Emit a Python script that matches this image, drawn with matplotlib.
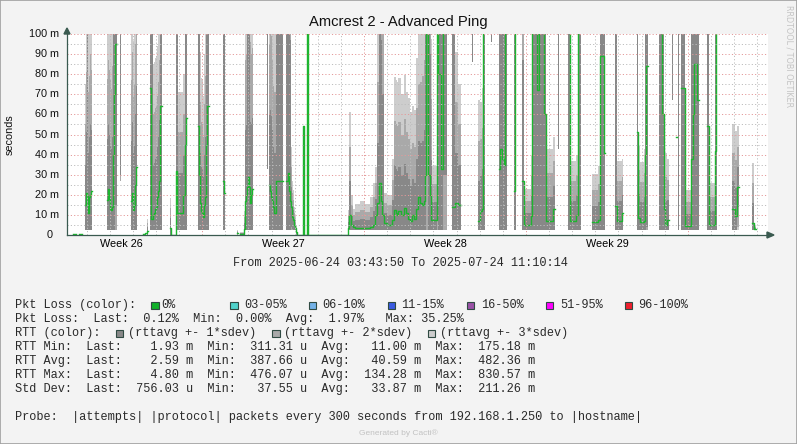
import numpy as np
import matplotlib.pyplot as plt
from matplotlib.patches import Rectangle, Polygon
from matplotlib.lines import Line2D
from matplotlib.transforms import blended_transform_factory

nan = np.nan

# RTT samples, hours after 2025-06-24 03:43:50 (values in ms, nan = no data)
hours = [0, 6, 9, 12, 16,
         19, 20, 21, 22, 23, 24, 25, 26,
         42, 43, 44, 45, 46, 47, 48, 49, 50, 52, 55, 56,
         66, 67, 68, 69, 70, 71, 72, 73,
         79, 81, 83, 84,
         86, 87, 89, 90, 91, 92, 93, 94, 95, 96, 97, 99,
         107, 108, 113, 114, 115, 120, 122, 123, 125,
         136, 137, 138, 139, 140, 141, 142, 143, 144, 145, 147,
         162, 163, 164,
         176, 177, 180, 184, 185, 186, 187, 188, 189, 190, 191, 192, 193, 208, 209,
         210, 211, 212, 213, 214, 215, 217, 224,
         227, 229, 230, 231, 232, 233, 234, 235, 236, 237, 238, 239, 245, 246, 249, 250,
         292, 293, 295, 297, 299, 304, 309, 314, 318, 320,
         322, 324, 326, 327, 329, 332, 337, 339, 341, 342,
         344, 347, 350, 352, 354, 356, 358, 360, 362, 364,
         366, 368, 370, 372, 373, 375, 377, 378, 379, 384,
         385, 388, 390, 394,
         400, 403, 406, 409, 420, 421,
         427, 429, 431, 432, 434, 440, 441,
         448, 449, 451, 453, 455, 457, 464, 465, 466,
         472, 474, 482, 483, 488, 490, 495, 497, 504, 506, 510, 511,
         520, 522, 528, 530, 533,
         545, 551, 553, 557, 558,
         569, 571, 576, 577,
         591, 593, 595, 599, 600, 601, 603,
         614, 617, 619, 621, 623, 625, 628, 629, 632, 633, 634, 635,
         637, 641, 648, 650, 651, 654, 656,
         664, 666, 672, 673, 675,
         690, 693, 695, 697,
         711, 713, 715, 727.4]

rtt_avg = [nan, 0.3, nan, 0.3, nan,
           15, 21, 20, 11, 19, 20, 22, nan,
           17.6, 23, 18, 13, 12.6, 14, 40, 70, 95, nan, 140, nan,
           17, 21, 16, 12.6, 15, 25, 34, nan,
           0.3, 0.8, 2, nan,
           73, 8, 10, 11, 13, 14, 19, 22, 27, 40, 64, nan,
           3.5, 0.2, 32, 11, 11, 20, 45, 58, nan,
           54, 30, 16, 12, 11, 9, 15, 19, 45, 64, nan,
           27, 21, nan,
           0.8, nan, 0.5, 3, 17, 20, 24, 29, 24, 16, 20, 23, nan, 150, nan,
           25, 22, 19, 17, 14, 11, 27, nan,
           27, 31, 22, 17, 14, 11, 9, 7.5, 5, 3.5, 1.5, 0.2, 54, 0.2, 180, 0.2,
           3.5, 10, 5, 4, 3.5, 3.5, 3.5, 4, 5, 10,
           16, 26, 17, 10, 6, 5, 7.6, 12.6, 11, 10,
           12, 10, 13.5, 11, 8, 7, 10, 8, 13, 19,
           16, 15, 17, 30, 130, 30, 20, 7.5, 7.5, 150,
           80, 33, 150, nan,
           14, 16, 15, nan, 150, nan,
           7, 12, 13, 150, nan, 150, nan,
           33, 43, 38, 35, 150, nan, 22, 150, nan,
           27, 5, 9.5, 150, 72, 150, 60, 7, 13, nan, 150, nan,
           150, 7, 10, 150, nan,
           6.5, 7.5, 89, 41, nan,
           14.5, 7, 11, nan,
           51, 8.5, 6.5, 7, 40, 84, nan,
           150, 60, 13, 5, 7.6, nan, 150, nan, 49, nan, 150, nan,
           73, 4.5, 38, 60, 85, 67, nan,
           54, 5, 42, 150, nan,
           13, 9.5, 24, nan,
           6, 3, nan, nan]

rtt_sdev = [nan, 0, nan, 0, nan,
            20, 30, 90, 30, 30, 35, 30, nan,
            30, 32, 32, 32, 30, 35, 80, 80, 80, nan, 110, nan,
            30, 35, 28, 28, 30, 35, 40, nan,
            0, 0, 2, nan,
            80, 95, 25, 25, 25, 25, 25, 27, 30, 60, 80, nan,
            5, 0, 90, 90, 20, 20, 70, 70, nan,
            80, 80, 25, 22, 22, 20, 25, 30, 70, 70, nan,
            80, 80, nan,
            0.5, nan, 0.3, 3, 35, 35, 90, 90, 90, 40, 35, 35, nan, 117, nan,
            35, 40, 40, 35, 30, 30, 90, nan,
            90, 90, 90, 80, 10, 8, 6, 5, 3, 2, 1, 0, 0, 0, 0, 0,
            3, 17, 5, 3, 4, 4.5, 4, 5, 7, 8,
            30, 80, 80, 60, 5, 5, 10, 22, 22, 22,
            22, 20, 22, 20, 20, 18, 18, 18, 25, 28,
            30, 32, 35, 70, 80, 80, 70, 30, 9, 120,
            100, 100, 120, nan,
            90, 25, 20, nan, 64, nan,
            20, 18, 20, 150, nan, 54, nan,
            100, 100, 100, 100, 150, nan, 80, 150, nan,
            60, 6, 10, 150, 120, 150, 90, 12, 12, nan, 107, nan,
            150, 10, 10, 150, nan,
            8, 9, 120, 90, nan,
            90, 10, 9, nan,
            80, 12, 10, 12, 80, 80, nan,
            150, 80, 15, 12, 10, nan, 83, nan, 0, nan, 148, nan,
            90, 6, 90, 90, 90, 90, nan,
            90, 7, 90, 150, nan,
            14, 14, 10, nan,
            10, 0.5, nan, nan]

# lowest RTT seen in each step (bands never go below it)
rtt_floor = [nan, 0, nan, 0, nan,
             2.6, 2.6, 2.6, 2.6, 2.6, 2.6, 2.6, nan,
             2.6, 2.6, 2.6, 2.6, 2.6, 2.6, 2.6, 2.6, 2.6, nan, 27, nan,
             2.6, 2.6, 2.6, 2.6, 2.6, 2.6, 2.6, nan,
             0, 0, 0, nan,
             2.6, 2.6, 2.6, 2.6, 2.6, 2.6, 2.6, 2.6, 2.6, 2.6, 2.6, nan,
             0, 0, 2.6, 2.6, 2.6, 2.6, 2.6, 2.6, nan,
             2.6, 2.6, 2.6, 2.6, 2.6, 2.6, 2.6, 2.6, 2.6, 2.6, nan,
             2.6, 2.6, nan,
             0, nan, 0, 0, 2.6, 2.6, 2.6, 2.6, 2.6, 2.6, 2.6, 2.6, nan, 33, nan,
             2.6, 2.6, 2.6, 2.6, 2.6, 2.6, 2.6, nan,
             2.6, 2.6, 2.6, 2.6, 2.6, 2.6, 2.6, 2.6, 2.6, 2.6, 0, 0, 0, 0, 0, 0,
             2.6, 2.6, 2.6, 2.6, 2.6, 2.6, 2.6, 2.6, 2.6, 2.6,
             2.6, 2.6, 2.6, 2.6, 2.6, 2.6, 2.6, 2.6, 2.6, 2.6,
             2.6, 2.6, 2.6, 2.6, 2.6, 2.6, 2.6, 2.6, 2.6, 2.6,
             2.6, 2.6, 2.6, 2.6, 2.6, 2.6, 2.6, 2.6, 2.6, 2.6,
             2.6, 2.6, 2.6, nan,
             2.6, 2.6, 2.6, nan, 86, nan,
             2.6, 2.6, 2.6, 2.6, nan, 96, nan,
             2.6, 2.6, 2.6, 2.6, 2.6, nan, 2.6, 2.6, nan,
             2.6, 2.6, 2.6, 2.6, 2.6, 2.6, 2.6, 2.6, 2.6, nan, 43, nan,
             2.6, 2.6, 2.6, 2.6, nan,
             2.6, 2.6, 2.6, 2.6, nan,
             2.6, 2.6, 2.6, nan,
             2.6, 2.6, 2.6, 2.6, 2.6, 2.6, nan,
             2.6, 2.6, 2.6, 2.6, 2.6, nan, 67, nan, 49, nan, 2.6, nan,
             2.6, 2.6, 2.6, 2.6, 2.6, 2.6, nan,
             2.6, 2.6, 2.6, 2.6, nan,
             2.6, 2.6, 2.6, nan,
             2.6, 2.6, nan, nan]

ytick_vals = [0, 10, 20, 30, 40, 50, 60, 70, 80, 90, 100]
ytick_labels = ['0', '10 m', '20 m', '30 m', '40 m', '50 m', '60 m', '70 m', '80 m', '90 m', '100 m']

loss_labels = ['0%', '03-05%', '06-10%', '11-15%', '16-50%', '51-95%', '96-100%']
loss_colors = ['#10b12a', '#4fd3cb', '#74b2e8', '#3a5be0', '#9a52a6', '#ff00ff', '#ee1f2e']
band_labels = ['(rttavg +- 1*sdev)', '(rttavg +- 2*sdev)', '(rttavg +- 3*sdev)']
band_colors = ['#888888', '#a9a9a9', '#cdcdcd']

stat_rows = [
    'Pkt Loss:  Last:  0.12%  Min:  0.00%  Avg:  1.97%   Max: 35.25%',
    'RTT Min:  Last:    1.93 m  Min:  311.31 u  Avg:   11.00 m  Max:  175.18 m',
    'RTT Avg:  Last:    2.59 m  Min:  387.66 u  Avg:   40.59 m  Max:  482.36 m',
    'RTT Max:  Last:    4.80 m  Min:  476.07 u  Avg:  134.28 m  Max:  830.57 m',
    'Std Dev:  Last:  756.03 u  Min:   37.55 u  Avg:   33.87 m  Max:  211.26 m',
]

start = np.datetime64('2025-06-24T03:43:50')
end = np.datetime64('2025-07-24T11:10:14')
one_h = np.timedelta64(1, 'h')
span = (end - start) / one_h

W, H = 797, 444
fig = plt.figure(figsize=(W / 100, H / 100), dpi=100, facecolor='#f3f3f3')


def fx(px):
    return px / W


def fy(py):
    return 1 - py / H


ax = fig.add_axes([fx(67), fy(235), (768 - 67) / W, (235 - 34) / H])
ax.set_facecolor('white')
ax.set_xlim(0, span)
ax.set_ylim(0, 100)
for s in ax.spines.values():
    s.set_visible(False)

# step data like rrdtool
t = np.array(hours, float)
avg = np.array(rtt_avg, float)
sd = np.array(rtt_sdev, float)
fl = np.array(rtt_floor, float)
ts = np.repeat(t, 2)[1:]


def steps(v):
    return np.repeat(v, 2)[:-1]


for k, col in zip([3, 2, 1], band_colors[::-1]):
    lo = np.maximum(avg - k * sd, fl)
    hi = avg + k * sd
    ax.fill_between(ts, steps(lo), steps(hi), color=col, lw=0, zorder=1)
ax.plot(ts, steps(avg), color='#1db52f', lw=1.0, zorder=3)

# grid
dots = (0, (1.2, 2.2))
for v in np.arange(5, 100, 10):
    ax.axhline(v, color='#bdbdbd', lw=0.7, ls=dots, zorder=4)
for v in ytick_vals[1:]:
    ax.axhline(v, color='#e49a9a', lw=0.7, ls=dots, zorder=4)
days = np.arange(np.datetime64('2025-06-25'), np.datetime64('2025-07-25'), np.timedelta64(1, 'D'))
mondays = [d for d in days if (d.astype('datetime64[D]').view('int64') - 4) % 7 == 0]
for d in days:
    if d not in mondays:
        ax.axvline((d - start) / one_h, color='#bdbdbd', lw=0.7, ls=dots, zorder=4)
for d in mondays:
    ax.axvline((d - start) / one_h, color='#e49a9a', lw=0.7, ls=dots, zorder=4)

# week labels in the middle of each week
week_pos, week_lab = [], []
for d in [np.datetime64('2025-06-23')] + mondays:
    mid = (d + np.timedelta64(84, 'h') - start) / one_h
    if 0 <= mid <= span:
        week_pos.append(mid)
        week_lab.append('Week %d' % d.astype(object).isocalendar()[1])
ax.set_xticks(week_pos, week_lab)
ax.set_yticks([])
ax.tick_params(axis='x', length=0, pad=3, labelsize=7.8)
for lab in ax.get_xticklabels():
    lab.set_family('Liberation Sans')

tr = blended_transform_factory(fig.transFigure, ax.transData)
for v, lab in zip(ytick_vals, ytick_labels):
    ax.text(fx(59 if v else 53), v, lab, transform=tr, ha='right', va='center',
            fontsize=7.8, family='Liberation Sans', color='#111111')

# axes with arrows
axc = '#3a5a50'
fig.add_artist(Line2D([fx(67), fx(67)], [fy(235), fy(31)], color=axc, lw=0.9))
fig.add_artist(Line2D([fx(67), fx(771)], [fy(235), fy(235)], color=axc, lw=0.9))
fig.add_artist(Polygon([[fx(64), fy(34)], [fx(70), fy(34)], [fx(67), fy(28)]], closed=True, color=axc))
fig.add_artist(Polygon([[fx(767), fy(232)], [fx(767), fy(238)], [fx(774), fy(235)]], closed=True, color=axc))

# texts
fig.text(fx(398), fy(22), 'Amcrest 2 - Advanced Ping', ha='center', va='center',
         fontsize=10.6, family='Liberation Sans', color='#111111')
fig.text(fx(10), fy(135), 'seconds', rotation=90, ha='center', va='center',
         fontsize=7.8, family='Liberation Sans', color='#111111')
fig.text(fx(789), fy(56), 'RRDTOOL / TOBI OETIKER', rotation=270, ha='center', va='center',
         fontsize=5.8, family='DejaVu Sans', color='#c4c4c4')
mono = ['Liberation Mono', 'DejaVu Sans Mono']
fs = 8.55
tc = '#2a2a2a'
fig.text(fx(400), fy(263), 'From %s To %s' % (str(start).replace('T', ' '), str(end).replace('T', ' ')),
         ha='center', va='center', family=mono, fontsize=fs, color=tc)

fig.text(fx(15), fy(305), 'Pkt Loss (color):', ha='left', va='center', family=mono, fontsize=fs, color=tc)
sq_x = [151, 230, 308.5, 387.5, 466.5, 545.5, 624.5]
lab_x = [161, 244, 322.5, 401, 481, 560, 638.5]
for sx, lx, lab, col in zip(sq_x, lab_x, loss_labels, loss_colors):
    fig.add_artist(Rectangle((fx(sx), fy(309)), 7.5 / W, 7.5 / H, facecolor=col,
                             edgecolor='#2f4a42', lw=0.8))
    fig.text(fx(lx), fy(305), lab, ha='left', va='center', family=mono, fontsize=fs, color=tc)

fig.text(fx(15), fy(319), stat_rows[0], ha='left', va='center', family=mono, fontsize=fs, color=tc)
fig.text(fx(15), fy(333), 'RTT (color):', ha='left', va='center', family=mono, fontsize=fs, color=tc)
for sx, lab, col in zip([115.5, 272, 427.5], band_labels, band_colors):
    fig.add_artist(Rectangle((fx(sx), fy(337)), 7.5 / W, 7.5 / H, facecolor=col,
                             edgecolor='#2f4a42', lw=0.8))
    fig.text(fx(sx + 12.5), fy(333), lab, ha='left', va='center', family=mono, fontsize=fs, color=tc)
for i, row in enumerate(stat_rows[1:]):
    fig.text(fx(15), fy(347 + 14 * i), row, ha='left', va='center', family=mono, fontsize=fs, color=tc)
fig.text(fx(15), fy(417), 'Probe:  |attempts| |protocol| packets every 300 seconds from 192.168.1.250 to |hostname|',
         ha='left', va='center', family=mono, fontsize=fs, color=tc)
fig.text(fx(398), fy(433), 'Generated by Cacti\u00ae', ha='center', va='center',
         fontsize=6, family='Liberation Sans', color='#c2c2c2')

fig.add_artist(Rectangle((0, 0), 1, 1, fill=False, edgecolor='#a0a0a0', lw=1.2, transform=fig.transFigure))

fig.savefig('out.png', dpi=100, facecolor=fig.get_facecolor())
